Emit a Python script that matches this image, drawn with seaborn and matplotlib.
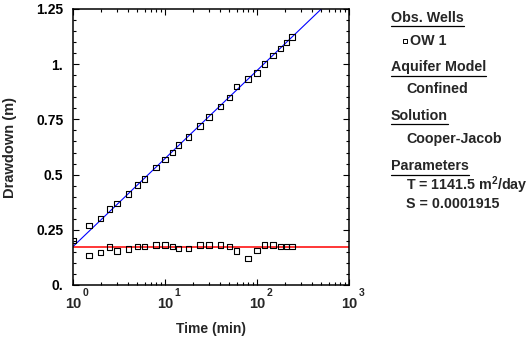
import numpy as np
import pandas as pd
import matplotlib
matplotlib.use("Agg")
import matplotlib.pyplot as plt
from matplotlib.ticker import FixedLocator, LogLocator, NullFormatter
import seaborn as sns

# Observation well OW 1: elapsed time (min) and drawdown (m)
time_min = [1, 1.5, 2, 2.5, 3, 4, 5, 6, 8, 10, 12, 14, 18, 24, 30, 40, 50,
            60, 80, 100, 120, 150, 180, 210, 240]
drawdown = [0.202, 0.270, 0.302, 0.343, 0.370, 0.411, 0.452, 0.479, 0.533,
            0.568, 0.601, 0.633, 0.670, 0.719, 0.760, 0.809, 0.850, 0.900,
            0.932, 0.959, 1.000, 1.040, 1.072, 1.099, 1.122]

# Drawdown derivative (ds / d ln t)
deriv_time = time_min[1:]
derivative = [0.134, 0.148, 0.171, 0.153, 0.162, 0.175, 0.175, 0.180, 0.180,
              0.175, 0.166, 0.166, 0.180, 0.180, 0.180, 0.175, 0.153, 0.121,
              0.157, 0.180, 0.180, 0.175, 0.175, 0.175]

# Cooper-Jacob straight line: drawdown at t = 1 min and slope per log cycle
cj_intercept = 0.174
cj_slope_per_cycle = 0.3987
cj_derivative = cj_slope_per_cycle / np.log(10)

x_decades = [0, 1, 2, 3]
y_ticks = [0.0, 0.25, 0.5, 0.75, 1.0, 1.25]
y_tick_labels = ["0.", "0.25", "0.5", "0.75", "1.", "1.25"]

legend_sections = [
    ("Obs. Wells", None),
    ("Aquifer Model", ["Confined"]),
    ("Solution", ["Cooper-Jacob"]),
    ("Parameters", ["T = 1141.5 m$^{2}$/day", "S = 0.0001915"]),
]

sns.set_style("ticks")
plt.rcParams["font.family"] = ["Liberation Sans", "DejaVu Sans"]
plt.rcParams["font.weight"] = "bold"
plt.rcParams["mathtext.fontset"] = "custom"
plt.rcParams["mathtext.rm"] = "Liberation Sans:bold"
plt.rcParams["mathtext.it"] = "Liberation Sans:bold"
plt.rcParams["mathtext.bf"] = "Liberation Sans:bold"

W, H = 527, 338
AX_L, AX_B, AX_W, AX_H = 73, 285, 276, 276   # plot box in pixels (left, bottom, size)
fig = plt.figure(figsize=(W / 100, H / 100), dpi=100)
ax = fig.add_axes([AX_L / W, 1 - AX_B / H, AX_W / W, AX_H / H])

obs = pd.DataFrame({"t": time_min, "s": drawdown})
der = pd.DataFrame({"t": deriv_time, "s": derivative})
t_line = np.logspace(0, 3, 200)
fit = pd.DataFrame({"t": t_line,
                    "s": cj_intercept + cj_slope_per_cycle * np.log10(t_line)})
fit_der = pd.DataFrame({"t": [1, 1000], "s": [cj_derivative, cj_derivative]})

sns.lineplot(data=fit, x="t", y="s", ax=ax, color="#0000ff", lw=0.8, zorder=2)
sns.lineplot(data=fit_der, x="t", y="s", ax=ax, color="#ff0000", lw=1.1, zorder=2)
for df in (obs, der):
    sns.scatterplot(data=df, x="t", y="s", ax=ax, marker="s", s=16,
                    facecolor="none", edgecolor="black", linewidth=0.8,
                    zorder=3, clip_on=True)

ax.set_xscale("log")
ax.set_xlim(1, 1000)
ax.set_ylim(0, 1.25)
ax.yaxis.set_major_locator(FixedLocator(y_ticks))
ax.set_yticklabels(y_tick_labels)
ax.yaxis.set_minor_locator(FixedLocator(np.arange(0, 1.2501, 0.05)))
ax.xaxis.set_major_locator(LogLocator(base=10, numticks=10))
ax.xaxis.set_minor_locator(LogLocator(base=10, subs=np.arange(2, 10), numticks=10))
ax.xaxis.set_minor_formatter(NullFormatter())
ax.xaxis.set_major_formatter(NullFormatter())

for side in ("top", "right", "bottom", "left"):
    ax.spines[side].set_visible(True)
    ax.spines[side].set_linewidth(1.1)
    ax.spines[side].set_color("black")
ax.tick_params(which="both", direction="in", top=True, right=True,
               colors="black", width=0.8)
ax.tick_params(which="major", length=4, labelsize=10)
ax.tick_params(axis="y", which="major", pad=7)
ax.tick_params(which="minor", length=2.3)

# Decade labels: the base centred under the tick, the exponent raised to its right
for d in x_decades:
    x_px = ax.transData.transform((10.0 ** d, 0.5))[0]
    fig.text(x_px / W, 1 - 308 / H, "10", ha="center", va="baseline",
             fontsize=10.5, fontweight="bold")
    fig.text((x_px + 9.5) / W, 1 - 295.5 / H, str(d), ha="left",
             va="baseline", fontsize=7.5, fontweight="bold")

ax.set_xlabel("Time (min)", fontsize=10, fontweight="bold", va="top")
ax.xaxis.set_label_coords(0.5, -(322 - AX_B) / AX_H)
ax.set_ylabel("Drawdown (m)", fontsize=10.5, fontweight="bold", va="top")
ax.yaxis.set_label_coords(-(AX_L - 3) / AX_W, 0.5)

# Side panel with well, model and solution details
renderer = fig.canvas.get_renderer()
x_head = 391 / W
x_item = 406 / W
head_base = [21.7, 71, 120, 170]
item_base = [[45], [93], [143], [190, 208]]
for (head, items), hb, ibs in zip(legend_sections, head_base, item_base):
    t = fig.text(x_head, 1 - hb / H, head, fontsize=10.3, fontweight="bold",
                 va="baseline", ha="left")
    bb = t.get_window_extent(renderer)
    uy = 1 - (hb + 4.5) / H
    fig.add_artist(plt.Line2D([bb.x0 / W, bb.x1 / W], [uy, uy],
                              color="black", lw=0.9))
    if items is None:
        fig.add_artist(plt.Line2D([404.5 / W], [1 - 40.5 / H], marker="s",
                                  markersize=3.2, markerfacecolor="none",
                                  markeredgecolor="black",
                                  markeredgewidth=0.7, linestyle="none"))
        fig.text(409.5 / W, 1 - ibs[0] / H, "OW 1", fontsize=10.3,
                 fontweight="bold", va="baseline", ha="left")
    else:
        for txt, b in zip(items, ibs):
            fig.text(x_item, 1 - b / H, txt, fontsize=10.3, fontweight="bold",
                     va="baseline", ha="left")

fig.savefig("out.png", dpi=100, facecolor="white")
